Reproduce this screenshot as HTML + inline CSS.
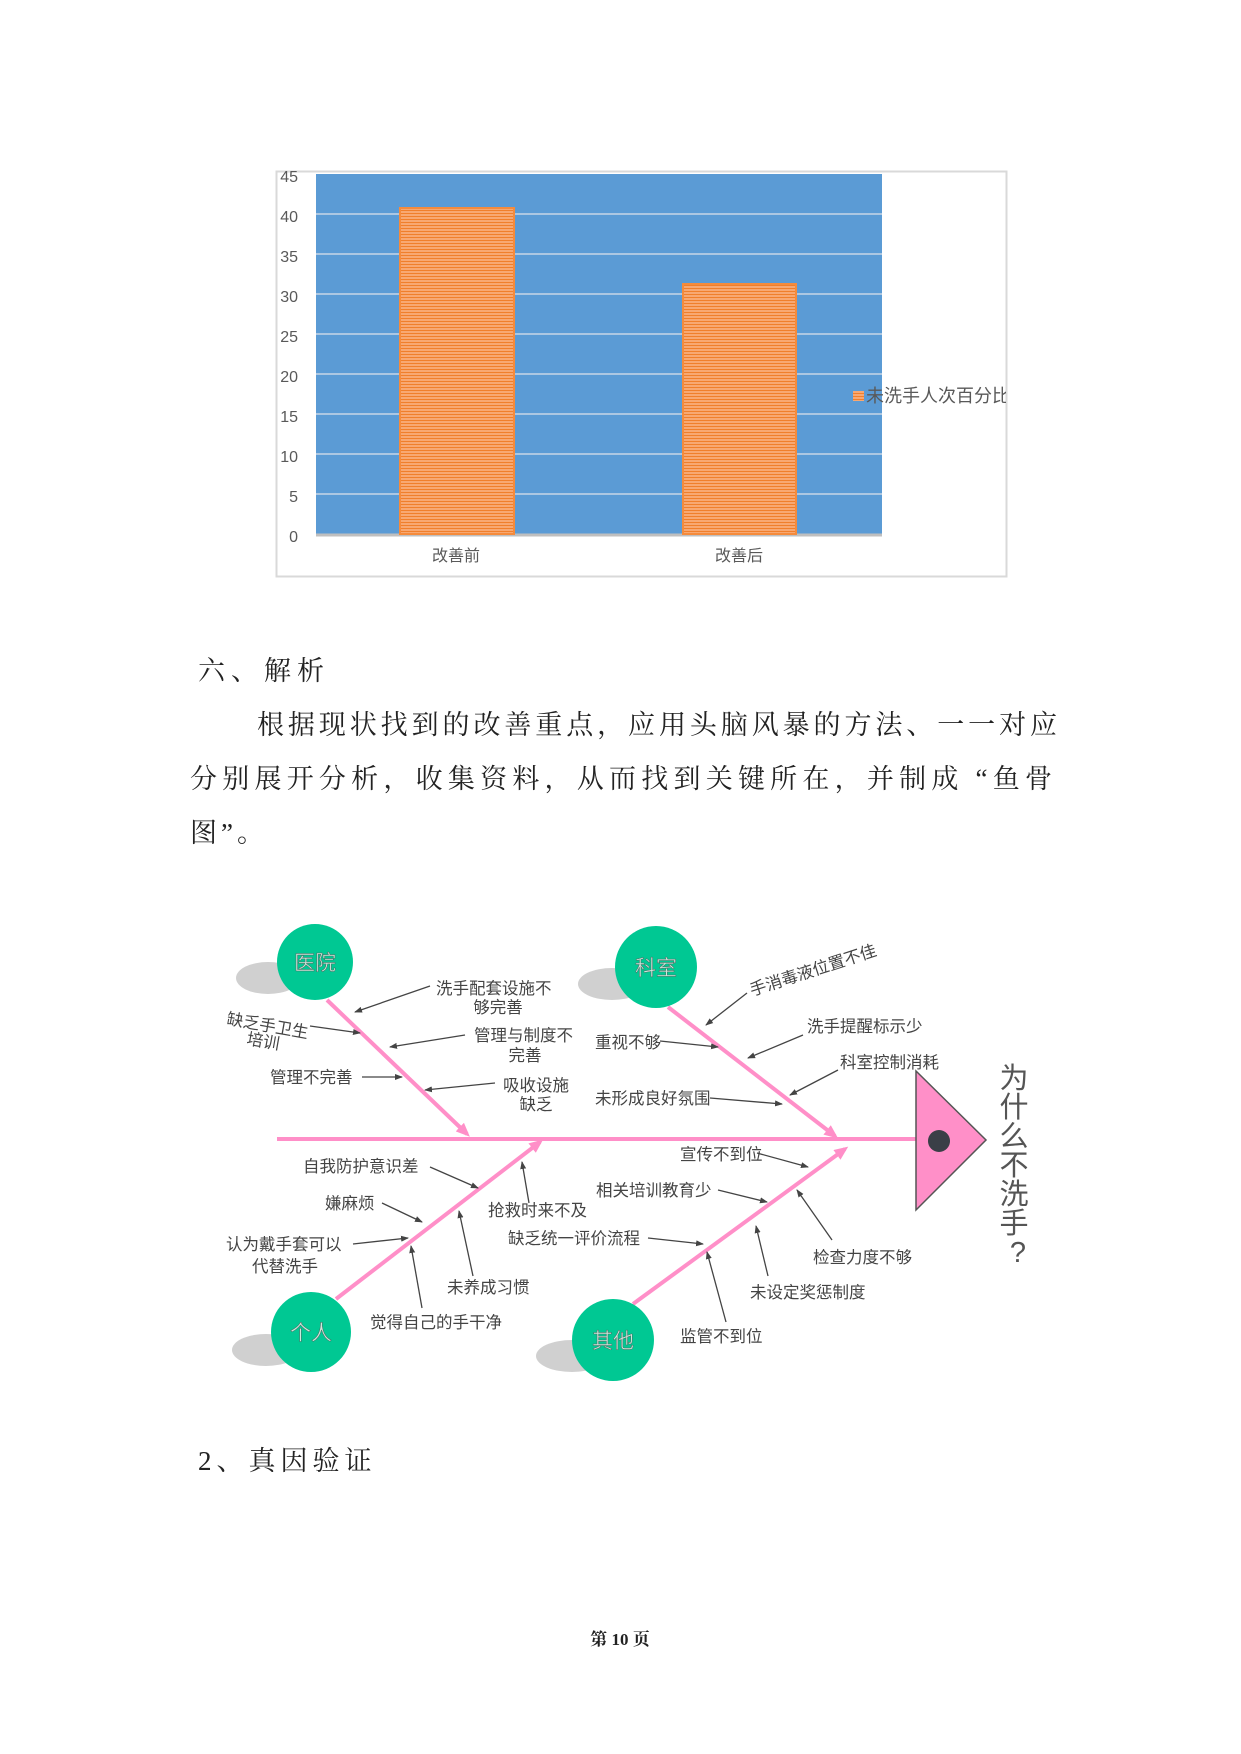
<!DOCTYPE html>
<html><head><meta charset="utf-8"><style>
body{margin:0;background:#fff}
.page{position:relative;width:1241px;height:1754px;overflow:hidden;background:#fff}
.t{position:absolute;font-family:"Liberation Serif","Noto Serif CJK SC",serif;font-size:27px;color:#222;white-space:nowrap;line-height:1}
</style></head><body><div class="page">
<svg width="1241" height="1754" style="position:absolute;left:0;top:0" font-family="Liberation Sans, Noto Sans CJK SC, sans-serif">
<defs>
<pattern id="st" width="4" height="3" patternUnits="userSpaceOnUse"><rect width="4" height="3" fill="#f8a872"/><rect width="4" height="1" fill="#f07f2c"/></pattern>
<marker id="ar" markerWidth="8" markerHeight="8" refX="7" refY="4" orient="auto" markerUnits="userSpaceOnUse"><path d="M0,1 L8,4 L0,7 Z" fill="#444"/></marker>
<marker id="pk" markerWidth="14" markerHeight="12" refX="10" refY="6" orient="auto" markerUnits="userSpaceOnUse"><path d="M0,0 L14,6 L0,12 Z" fill="#ff8fc8"/></marker>
</defs>
<!-- chart -->
<rect x="276.5" y="171.5" width="730" height="405" fill="#fff" stroke="#d9d9d9" stroke-width="2"/>
<rect x="316" y="174" width="566" height="360" fill="#5b9bd5"/>
<g stroke="#c8d6e6" stroke-width="1.5">
<line x1="316" y1="214" x2="882" y2="214"/><line x1="316" y1="254" x2="882" y2="254"/><line x1="316" y1="294" x2="882" y2="294"/><line x1="316" y1="334" x2="882" y2="334"/><line x1="316" y1="374" x2="882" y2="374"/><line x1="316" y1="414" x2="882" y2="414"/><line x1="316" y1="454" x2="882" y2="454"/><line x1="316" y1="494" x2="882" y2="494"/>
</g>
<line x1="316" y1="535" x2="882" y2="535" stroke="#bfbfbf" stroke-width="3"/>
<rect x="400" y="208" width="114" height="326" fill="url(#st)" stroke="#f58b3c" stroke-width="2"/>
<rect x="683" y="284" width="113" height="250" fill="url(#st)" stroke="#f58b3c" stroke-width="2"/>
<g fill="#595959" font-size="16" text-anchor="end">
<text x="298" y="182">45</text><text x="298" y="222">40</text><text x="298" y="262">35</text><text x="298" y="302">30</text><text x="298" y="342">25</text><text x="298" y="382">20</text><text x="298" y="422">15</text><text x="298" y="462">10</text><text x="298" y="502">5</text><text x="298" y="542">0</text>
</g>
<g fill="#595959" font-size="16" text-anchor="middle"><text x="456" y="561">改善前</text><text x="739" y="561">改善后</text></g>
<rect x="853" y="391" width="11" height="10" fill="url(#st)"/>
<svg x="866" y="380" width="140" height="30"><text x="0" y="22" font-size="18" fill="#595959">未洗手人次百分比</text></svg>

<!-- fishbone -->
<g fill="#d0d0d0"><ellipse cx="268" cy="978" rx="32" ry="16"/><ellipse cx="612" cy="984" rx="34" ry="16"/><ellipse cx="266" cy="1350" rx="34" ry="16"/><ellipse cx="572" cy="1356" rx="36" ry="16"/></g>
<g stroke="#ff8fc8" stroke-width="4" fill="none">
<line x1="277" y1="1139" x2="917" y2="1139"/>
<line x1="327" y1="1000" x2="467" y2="1134" marker-end="url(#pk)"/>
<line x1="668" y1="1007" x2="835" y2="1136" marker-end="url(#pk)"/>
<line x1="336" y1="1299" x2="540" y2="1142" marker-end="url(#pk)"/>
<line x1="633" y1="1304" x2="845" y2="1149" marker-end="url(#pk)"/>
</g>
<g fill="#00c893"><circle cx="315" cy="962" r="38"/><circle cx="656" cy="967" r="41"/><circle cx="311" cy="1332" r="40"/><circle cx="613" cy="1340" r="41"/></g>
<g fill="#cfe8dd" font-size="21" text-anchor="middle" stroke="#4a6a60" stroke-width="0.5"><text x="315" y="970">医院</text><text x="656" y="975">科室</text><text x="311" y="1340">个人</text><text x="613" y="1348">其他</text></g>
<path d="M916,1071 L986,1140 L916,1210 Z" fill="#ff8fc8" stroke="#555" stroke-width="1.5"/>
<circle cx="939" cy="1141" r="11" fill="#3a3f47"/>
<g fill="#555" font-size="29" text-anchor="middle" font-family="Liberation Sans, Noto Sans CJK SC, sans-serif">
<text x="1014" y="1088">为</text><text x="1014" y="1117">什</text><text x="1014" y="1146">么</text><text x="1014" y="1175">不</text><text x="1014" y="1204">洗</text><text x="1014" y="1233">手</text><text x="1018" y="1262">?</text>
</g>
<g stroke="#444" stroke-width="1.3" marker-end="url(#ar)">
<line x1="430" y1="986" x2="355" y2="1012"/><line x1="310" y1="1026" x2="360" y2="1033"/>
<line x1="465" y1="1035" x2="390" y2="1047"/><line x1="362" y1="1077" x2="402" y2="1077"/>
<line x1="495" y1="1083" x2="425" y2="1090"/>
<line x1="747" y1="993" x2="706" y2="1025"/><line x1="660" y1="1041" x2="718" y2="1047"/>
<line x1="803" y1="1035" x2="748" y2="1058"/><line x1="838" y1="1070" x2="790" y2="1095"/>
<line x1="710" y1="1098" x2="782" y2="1104"/>
<line x1="430" y1="1167" x2="478" y2="1188"/><line x1="382" y1="1203" x2="422" y2="1222"/>
<line x1="353" y1="1244" x2="408" y2="1238"/><line x1="529" y1="1203" x2="522" y2="1162"/>
<line x1="473" y1="1276" x2="459" y2="1211"/><line x1="422" y1="1308" x2="411" y2="1246"/>
<line x1="757" y1="1153" x2="808" y2="1167"/><line x1="718" y1="1190" x2="767" y2="1202"/>
<line x1="648" y1="1238" x2="703" y2="1244"/><line x1="832" y1="1240" x2="797" y2="1190"/>
<line x1="768" y1="1276" x2="756" y2="1226"/><line x1="726" y1="1322" x2="707" y2="1252"/>
</g>
<g fill="#444" font-size="16.5">
<text x="436" y="994">洗手配套设施不</text><text x="498" y="1013" text-anchor="middle">够完善</text>
<text x="226" y="1024" transform="rotate(10 226 1024)">缺乏手卫生</text><text x="246" y="1044" transform="rotate(10 246 1044)">培训</text>
<text x="474" y="1041">管理与制度不</text><text x="525" y="1061" text-anchor="middle">完善</text>
<text x="270" y="1083">管理不完善</text>
<text x="503" y="1091">吸收设施</text><text x="536" y="1110" text-anchor="middle">缺乏</text>
<text x="752" y="996" transform="rotate(-18 752 996)">手消毒液位置不佳</text>
<text x="595" y="1048">重视不够</text>
<text x="807" y="1032">洗手提醒标示少</text>
<text x="840" y="1068">科室控制消耗</text>
<text x="595" y="1104">未形成良好氛围</text>
<text x="303" y="1172">自我防护意识差</text>
<text x="325" y="1209">嫌麻烦</text>
<text x="226" y="1250">认为戴手套可以</text><text x="252" y="1272">代替洗手</text>
<text x="488" y="1216">抢救时来不及</text>
<text x="447" y="1293">未养成习惯</text>
<text x="370" y="1328">觉得自己的手干净</text>
<text x="680" y="1160">宣传不到位</text>
<text x="596" y="1196">相关培训教育少</text>
<text x="508" y="1244">缺乏统一评价流程</text>
<text x="813" y="1263">检查力度不够</text>
<text x="750" y="1298">未设定奖惩制度</text>
<text x="680" y="1342">监管不到位</text>
</g>
<text x="620" y="1645" font-size="17" text-anchor="middle" fill="#222" font-weight="bold" font-family="Liberation Serif, Noto Serif CJK SC, serif">第 10 页</text>
</svg>
<div class="t" style="left:198px;top:658px;letter-spacing:6px">六、解析</div>
<div class="t" style="left:257px;top:712px;width:800px;text-align:justify;text-align-last:justify">根据现状找到的改善重点，应用头脑风暴的方法、一一对应</div>
<div class="t" style="left:190px;top:766px;width:862px;text-align:justify;text-align-last:justify">分别展开分析，收集资料，从而找到关键所在，并制成 “鱼骨</div>
<div class="t" style="left:190px;top:820px;letter-spacing:4px">图”。</div>
<div class="t" style="left:198px;top:1448px;letter-spacing:5px">2、真因验证</div>
</div></body></html>
